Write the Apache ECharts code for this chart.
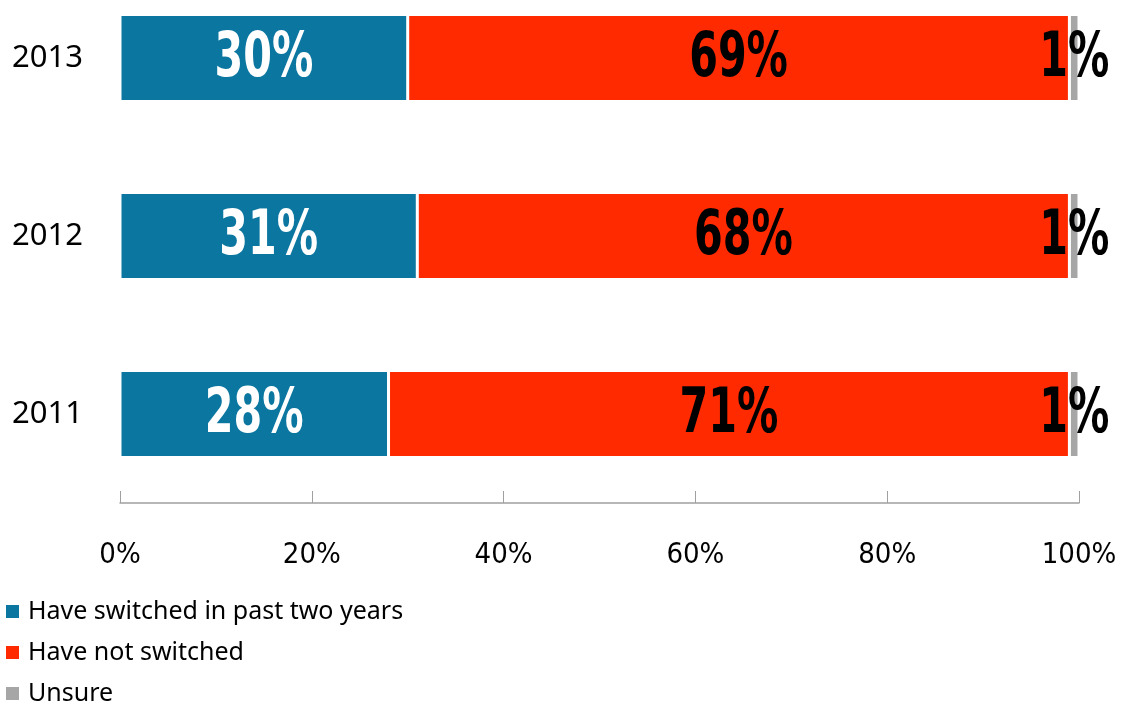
<!DOCTYPE html>
<html>
<head>
<meta charset="utf-8">
<script src="https://cdn.jsdelivr.net/npm/echarts@6/dist/echarts.min.js"></script>
<style>
  html, body { margin: 0; padding: 0; background: #ffffff; overflow: hidden; }
  body { position: relative; width: 1122px; height: 702px; }
  /* the plot's top band starts above the page edge, so the canvas is raised a little */
  #chart { position: absolute; left: 0; top: -31px; width: 1122px; height: 733px; }
</style>
</head>
<body>
<div id="chart"></div>
<script>
// Survey years, bottom to top on the category axis
const years = ['2011', '2012', '2013'];

// Share of respondents per answer, in percent, one value per year
const switchedValues = [28, 31, 30];
const notSwitchedValues = [71, 68, 69];
const unsureValues = [1, 1, 1];

const seriesNames = ['Have switched in past two years', 'Have not switched', 'Unsure'];
const xTicks = [0, 20, 40, 60, 80, 100];

const blue = '#0b76a0';
const red = '#ff2a00';
const grey = '#a6a6a6';

const condensed = '"DejaVu Sans Condensed", "DejaVu Sans", sans-serif';
const plain = '"Noto Sans", sans-serif';

function barSeries(name, data, color) {
  return {
    name: name,
    type: 'bar',
    stack: 'total',
    barWidth: 87,
    data: data,
    itemStyle: { color: color, borderColor: '#ffffff', borderWidth: 1.5 },
    emphasis: { disabled: true }
  };
}

// Value labels: one entry per segment, placed at the segment's middle
const labelData = [];
years.forEach(function (y, i) {
  const s = switchedValues[i], n = notSwitchedValues[i], u = unsureValues[i];
  labelData.push([s / 2, i, s + '%', '#ffffff']);
  labelData.push([s + n / 2, i, n + '%', '#000000']);
  labelData.push([s + n + u / 2, i, u + '%', '#000000']);
});

const chart = echarts.init(document.getElementById('chart'), null, { renderer: 'canvas' });
chart.setOption({
  animation: false,
  backgroundColor: '#ffffff',
  grid: { left: 120, right: 43, top: 0, bottom: 199, containLabel: false },
  legend: {
    orient: 'vertical',
    left: 4,
    top: 630,
    padding: 0,
    height: 120,
    itemWidth: 15,
    itemHeight: 15,
    itemGap: 16,
    icon: 'rect',
    textStyle: { fontFamily: plain, fontSize: 25, color: '#000000', padding: [0, 0, 0, 3] },
    data: seriesNames
  },
  xAxis: {
    type: 'value',
    min: 0,
    max: 100,
    interval: 20,
    axisLine: { show: true, lineStyle: { color: '#a0a0a0', width: 1.5 } },
    axisTick: { show: true, inside: true, length: 12, lineStyle: { color: '#a0a0a0' } },
    splitLine: { show: false },
    axisLabel: {
      margin: 38,
      formatter: function (v) { return xTicks.indexOf(v) >= 0 ? v + '%' : ''; },
      fontFamily: condensed,
      fontSize: 29,
      color: '#000000'
    }
  },
  yAxis: {
    type: 'category',
    data: years,
    axisLine: { show: false },
    axisTick: { show: false },
    axisLabel: {
      margin: 37,
      fontFamily: plain,
      fontSize: 31,
      color: '#000000'
    }
  },
  series: [
    barSeries(seriesNames[0], switchedValues, blue),
    barSeries(seriesNames[1], notSwitchedValues, red),
    barSeries(seriesNames[2], unsureValues, grey),
    {
      name: 'values',
      type: 'custom',
      coordinateSystem: 'cartesian2d',
      silent: true,
      z: 10,
      data: labelData,
      encode: { x: 0, y: 1 },
      renderItem: function (params, api) {
        const pt = api.coord([api.value(0), api.value(1)]);
        const item = labelData[params.dataIndex];
        return {
          type: 'text',
          x: pt[0],
          y: pt[1] + 2,
          scaleX: 0.74,
          style: {
            x: 0,
            y: 0,
            text: item[2],
            fill: item[3],
            font: 'bold 62px ' + condensed,
            align: 'center',
            verticalAlign: 'middle'
          }
        };
      }
    }
  ]
});
</script>
</body>
</html>
